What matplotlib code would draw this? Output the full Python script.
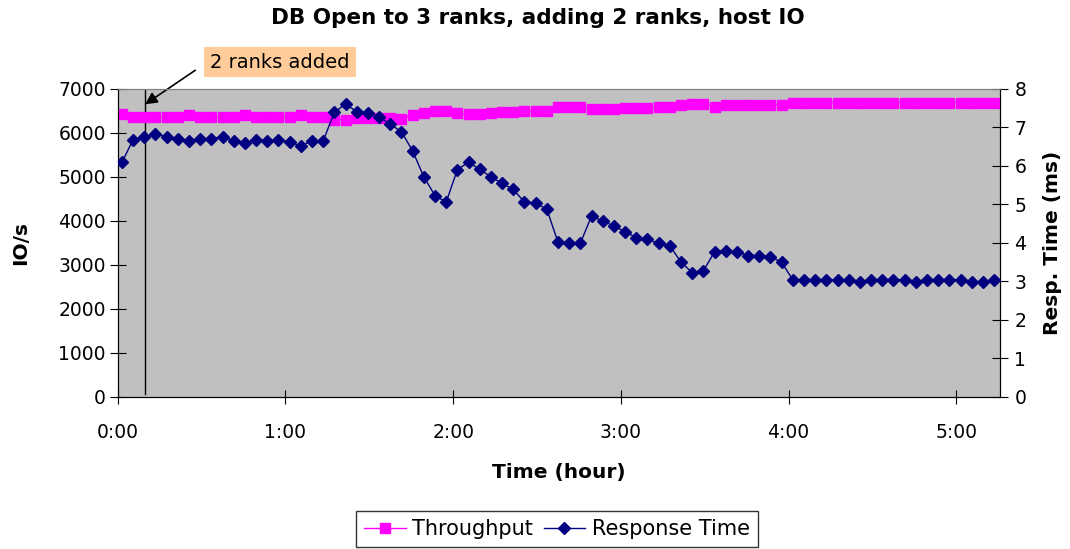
import numpy as np
import matplotlib.pyplot as plt
from matplotlib.lines import Line2D

# samples every 4 minutes, first one at 1.5 min
minutes = [1.5 + 4 * i for i in range(79)]

throughput = [6420, 6360, 6360, 6360, 6360, 6360, 6400, 6360, 6360, 6360,
              6360, 6400, 6370, 6360, 6360, 6370, 6400, 6360, 6360, 6300,
              6300, 6330, 6330, 6340, 6330, 6320, 6410, 6450, 6500, 6500,
              6450, 6420, 6420, 6460, 6480, 6480, 6500, 6500, 6500, 6600,
              6600, 6600, 6540, 6540, 6550, 6560, 6560, 6560, 6600, 6600,
              6630, 6660, 6660, 6600, 6640, 6640, 6640, 6640, 6640, 6640,
              6690, 6690, 6690, 6690, 6690, 6690, 6690, 6690, 6690, 6690,
              6690, 6690, 6690, 6690, 6690, 6690, 6690, 6690, 6690]

resp_time = [6.09, 6.68, 6.74, 6.83, 6.76, 6.71, 6.65, 6.71, 6.71, 6.76,
             6.65, 6.59, 6.68, 6.65, 6.68, 6.62, 6.52, 6.65, 6.65, 7.39,
             7.61, 7.41, 7.38, 7.28, 7.08, 6.89, 6.39, 5.72, 5.23, 5.06,
             5.90, 6.10, 5.91, 5.72, 5.55, 5.39, 5.06, 5.03, 4.88, 4.02,
             3.99, 3.99, 4.70, 4.57, 4.44, 4.29, 4.14, 4.10, 3.99, 3.93,
             3.50, 3.23, 3.27, 3.77, 3.80, 3.77, 3.67, 3.67, 3.64, 3.50,
             3.04, 3.04, 3.04, 3.04, 3.04, 3.04, 2.99, 3.04, 3.04, 3.04,
             3.04, 2.99, 3.04, 3.04, 3.04, 3.04, 2.99, 2.99, 3.04]

hour_ticks = [0, 1, 2, 3, 4, 5]
hour_labels = ['0:00', '1:00', '2:00', '3:00', '4:00', '5:00']
event_hour = 0.163

plt.rcParams['font.family'] = 'DejaVu Sans'

hours = np.array(minutes) / 60.0

fig = plt.figure(figsize=(10.70, 5.49), dpi=100)
ax = fig.add_axes([0.110, 0.277, 0.8245, 0.561])
ax.set_facecolor('#C0C0C0')
ax2 = ax.twinx()

ax.plot(hours, throughput, color='#FF00FF', marker='s', markersize=7.5,
        linewidth=1, zorder=3)
ax2.plot(hours, resp_time, color='#000080', marker='D', markersize=6,
         linewidth=1, zorder=4)

ax.axvline(event_hour, ymin=0.01, ymax=1, color='black', linewidth=1)

ax.set_xlim(0, 5.26)
ax.set_ylim(0, 7000)
ax2.set_ylim(0, 8)
ax.set_xticks(hour_ticks)
ax.set_xticklabels(hour_labels)
ax.set_yticks(range(0, 7001, 1000))
ax2.set_yticks(range(0, 9))

ax.tick_params(axis='x', direction='inout', length=10, pad=14, labelsize=13.5)
ax.tick_params(axis='y', direction='inout', length=11, pad=3, labelsize=13.5)
ax2.tick_params(axis='y', direction='inout', length=11, pad=5, labelsize=13.5)

for a in (ax, ax2):
    a.spines['top'].set_color('#808080')
    for s in ('left', 'right', 'bottom'):
        a.spines[s].set_color('black')

ax.set_xlabel('Time (hour)', fontsize=14.5, fontweight='bold', labelpad=15)
ax.set_ylabel('IO/s', fontsize=14.5, fontweight='bold', labelpad=20)
ax2.set_ylabel('Resp. Time (ms)', fontsize=14.5, fontweight='bold',
               labelpad=12)

fig.text(0.503, 0.967, 'DB Open to 3 ranks, adding 2 ranks, host IO',
         ha='center', va='center', fontsize=15.5, fontweight='bold')

ax.annotate('2 ranks added', xy=(event_hour, 6650), xycoords='data',
            xytext=(280 / 1070, 1 - 62 / 549), textcoords='figure fraction',
            ha='center', va='center', fontsize=14,
            bbox=dict(boxstyle='square,pad=0.3', fc='#FFCC99', ec='none'),
            arrowprops=dict(arrowstyle='-|>', color='black', lw=1.2,
                            shrinkA=8, shrinkB=0, mutation_scale=18,
                            relpos=(0.0, 0.6)))

handles = [Line2D([], [], color='#FF00FF', marker='s', markersize=7.5, lw=1),
           Line2D([], [], color='#000080', marker='D', markersize=6, lw=1)]
leg = fig.legend(handles, ['Throughput', 'Response Time'], loc='center',
                 bbox_to_anchor=(557 / 1070, 1 - 529 / 549), ncol=2,
                 fontsize=15, frameon=True, fancybox=False, handlelength=2,
                 columnspacing=0.5, handletextpad=0.3, borderpad=0.4)
leg.get_frame().set_edgecolor('black')
leg.get_frame().set_linewidth(1)

fig.savefig('out.png', dpi=100)
